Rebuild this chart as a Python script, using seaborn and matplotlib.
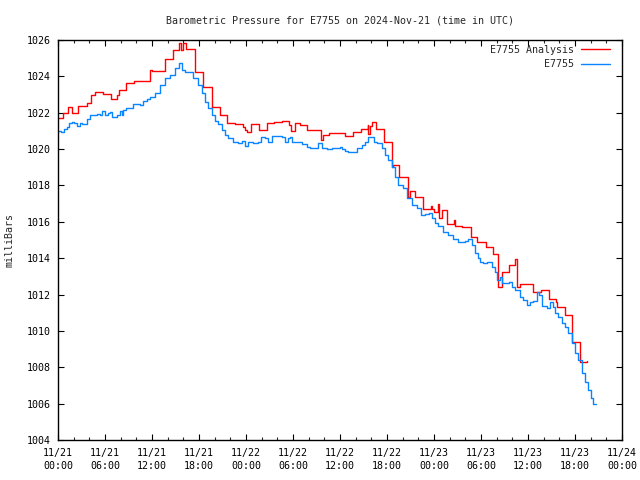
import matplotlib
matplotlib.use("Agg")
import matplotlib.pyplot as plt
import seaborn as sns
import pandas as pd
from matplotlib.ticker import MultipleLocator

# ---- data (hours since 2024-11-21 00:00 UTC, pressure in mbar) ----
analysis_hours = [0.0, 0.68, 1.32, 1.74, 2.51, 3.66, 4.21, 4.72, 5.79, 6.77, 7.49, 7.79,
                  8.64, 9.74, 11.74, 12.0, 13.66, 14.72, 15.5, 15.7, 16.0, 16.3, 17.55,
                  18.55, 19.62, 20.68, 21.62, 22.6, 23.66, 23.9, 24.09, 24.6, 25.7, 26.64,
                  27.62, 28.64, 29.53, 29.7, 30.26, 30.9, 31.75, 33.57, 33.87, 34.64,
                  36.64, 37.62, 38.64, 39.53, 39.6, 39.83, 40.04, 40.6, 41.62, 42.6, 42.8,
                  43.57, 44.64, 44.94, 45.58, 46.64, 47.62, 47.8, 48.0, 48.5, 48.7, 49.06,
                  49.62, 50.55, 50.65, 51.53, 52.68, 53.55, 54.64, 55.57, 56.21, 56.64,
                  57.62, 58.34, 58.64, 58.98, 60.6, 61.62, 62.68, 63.58, 63.7, 64.72,
                  65.58, 66.64, 67.57]
analysis_mbar = [1021.7, 1022.0, 1022.3, 1022.0, 1022.37, 1022.52, 1022.97, 1023.12, 1023.01,
                 1022.75, 1022.97, 1023.25, 1023.62, 1023.75, 1024.35, 1024.3, 1024.94,
                 1025.45, 1025.85, 1025.45, 1025.85, 1025.5, 1024.22, 1023.43, 1022.3,
                 1021.86, 1021.42, 1021.36, 1021.2, 1021.05, 1020.92, 1021.36, 1021.05,
                 1021.42, 1021.49, 1021.55, 1021.35, 1020.98, 1021.42, 1021.3, 1021.07,
                 1020.48, 1020.78, 1020.87, 1020.72, 1020.92, 1021.1, 1021.3, 1020.85,
                 1021.27, 1021.51, 1021.09, 1020.37, 1019.03, 1019.1, 1018.45, 1017.35,
                 1017.71, 1017.35, 1016.69, 1016.85, 1016.69, 1016.52, 1016.96, 1016.19,
                 1016.65, 1015.88, 1016.1, 1015.79, 1015.7, 1015.18, 1014.87, 1014.6,
                 1014.21, 1012.43, 1013.26, 1013.62, 1013.94, 1012.4, 1012.58, 1012.16,
                 1012.25, 1011.74, 1011.6, 1011.3, 1010.88, 1009.41, 1008.31, 1008.35]

station_hours = [0.04, 0.38, 0.81, 1.11, 1.4, 1.74, 2.08, 2.38, 2.81, 3.02, 3.66, 4.08, 4.94,
                 5.36, 5.57, 6.0, 6.34, 6.64, 6.94, 7.49, 7.91, 8.13, 8.34, 8.64, 9.62,
                 10.47, 10.89, 11.32, 11.74, 12.38, 13.02, 13.66, 14.3, 14.94, 15.45, 15.79,
                 16.21, 16.98, 17.28, 17.92, 18.34, 18.77, 19.19, 19.62, 20.04, 20.47,
                 20.89, 21.32, 21.74, 22.38, 23.02, 23.45, 23.87, 24.3, 24.94, 25.58, 25.91,
                 26.43, 26.85, 27.28, 28.55, 28.98, 29.32, 29.62, 29.83, 30.68, 31.11,
                 31.75, 32.17, 33.23, 33.66, 34.3, 34.94, 36.0, 36.21, 36.64, 37.06, 37.91,
                 38.13, 38.77, 39.19, 39.53, 40.04, 40.38, 40.68, 41.32, 41.75, 42.17,
                 42.6, 43.02, 43.45, 44.09, 44.51, 45.15, 45.79, 46.34, 46.85, 47.36, 47.7,
                 48.13, 48.55, 49.19, 49.83, 50.47, 51.11, 51.96, 52.3, 52.81, 53.23,
                 53.66, 53.87, 54.3, 54.72, 55.36, 55.79, 56.0, 56.43, 56.64, 57.28, 57.62,
                 57.91, 58.34, 58.98, 59.4, 59.83, 60.26, 60.68, 61.11, 61.45, 61.74,
                 62.38, 62.81, 63.15, 63.45, 63.87, 64.3, 64.72, 65.15, 65.57, 66.0, 66.43,
                 66.85, 67.28, 67.7, 68.0, 68.34, 68.68]
station_mbar = [1021.01, 1020.92, 1021.1, 1021.23, 1021.42, 1021.51, 1021.45, 1021.29,
                1021.42, 1021.36, 1021.66, 1021.88, 1021.92, 1021.88, 1022.1, 1021.88,
                1021.97, 1022.05, 1021.78, 1021.88, 1022.1, 1021.88, 1022.15, 1022.28,
                1022.46, 1022.42, 1022.65, 1022.76, 1022.89, 1023.07, 1023.52, 1023.89,
                1024.07, 1024.44, 1024.71, 1024.35, 1024.26, 1024.22, 1023.89, 1023.52,
                1023.07, 1022.61, 1022.24, 1021.88, 1021.55, 1021.36, 1021.05, 1020.78,
                1020.63, 1020.41, 1020.32, 1020.45, 1020.19, 1020.37, 1020.32, 1020.41,
                1020.69, 1020.63, 1020.41, 1020.72, 1020.69, 1020.37, 1020.6, 1020.69,
                1020.41, 1020.37, 1020.26, 1020.13, 1020.08, 1020.32, 1020.04, 1020.0,
                1020.08, 1020.1, 1019.98, 1019.91, 1019.82, 1019.86, 1020.04, 1020.22,
                1020.41, 1020.65, 1020.69, 1020.41, 1020.32, 1020.04, 1019.68, 1019.4,
                1019.03, 1018.48, 1018.02, 1017.84, 1017.29, 1016.92, 1016.74, 1016.38,
                1016.44, 1016.5, 1016.19, 1015.91, 1015.77, 1015.46, 1015.28, 1015.04,
                1014.91, 1014.96, 1015.04, 1014.72, 1014.27, 1014.0, 1013.81, 1013.76,
                1013.81, 1013.54, 1013.26, 1012.8, 1012.98, 1012.62, 1012.66, 1012.71,
                1012.43, 1012.25, 1011.88, 1011.7, 1011.43, 1011.61, 1011.67, 1012.16,
                1011.98, 1011.37, 1011.24, 1011.61, 1011.34, 1010.97, 1010.78, 1010.42,
                1010.23, 1009.87, 1009.32, 1008.77, 1008.4, 1007.67, 1007.21, 1006.75,
                1006.29, 1005.98, 1005.98]

x_tick_hours = [0, 6, 12, 18, 24, 30, 36, 42, 48, 54, 60, 66, 72]
x_tick_labels = ["11/21\n00:00", "11/21\n06:00", "11/21\n12:00", "11/21\n18:00",
                 "11/22\n00:00", "11/22\n06:00", "11/22\n12:00", "11/22\n18:00",
                 "11/23\n00:00", "11/23\n06:00", "11/23\n12:00", "11/23\n18:00",
                 "11/24\n00:00"]
y_ticks = [1004, 1006, 1008, 1010, 1012, 1014, 1016, 1018, 1020, 1022, 1024, 1026]

title = "Barometric Pressure for E7755 on 2024-Nov-21 (time in UTC)"
series_names = ["E7755 Analysis", "E7755"]
series_colors = ["#ff0000", "#0a84ff"]

# ---- plot ----
sns.set_style("ticks")
plt.rcParams["font.family"] = ["DejaVu Sans Mono"]
FS = 7.2

fig = plt.figure(figsize=(6.4, 4.8), dpi=100)
ax = fig.add_axes([58 / 640, 40 / 480, 564 / 640, 400 / 480])

df_a = pd.DataFrame({"hour": analysis_hours, "mbar": analysis_mbar})
df_s = pd.DataFrame({"hour": station_hours, "mbar": station_mbar})

sns.lineplot(data=df_a, x="hour", y="mbar", ax=ax, color=series_colors[0],
             drawstyle="steps-post", lw=1.0, label=series_names[0],
             estimator=None, sort=False)
sns.lineplot(data=df_s, x="hour", y="mbar", ax=ax, color=series_colors[1],
             drawstyle="steps-post", lw=1.0, label=series_names[1],
             estimator=None, sort=False)

ax.set_xlim(0, 72)
ax.set_ylim(1004, 1026)
ax.set_xticks(x_tick_hours)
ax.set_xticklabels(x_tick_labels, fontsize=FS, linespacing=1.35)
ax.xaxis.set_minor_locator(MultipleLocator(2))
ax.set_yticks(y_ticks)
ax.set_yticklabels([str(v) for v in y_ticks], fontsize=FS)

ax.tick_params(axis="both", which="major", direction="in", length=4.5, width=0.8,
               top=True, right=True, colors="black")
ax.tick_params(axis="x", which="major", pad=6)
ax.tick_params(axis="y", which="major", pad=5)
ax.tick_params(axis="x", which="minor", direction="in", length=2.5, width=0.8,
               top=True, bottom=True)
for s in ax.spines.values():
    s.set_linewidth(1.0)
    s.set_color("black")

ax.set_xlabel("")
ax.set_ylabel("milliBars", fontsize=FS)
ax.yaxis.set_label_coords(-43 / 564, 0.5)
ax.set_title(title, fontsize=FS, pad=12)

leg = ax.legend(loc="upper right", frameon=False, markerfirst=False, fontsize=FS,
                handlelength=2.9, handletextpad=0.7, labelspacing=0.45,
                borderpad=0, borderaxespad=0,
                bbox_to_anchor=(1 - 12 / 564, 1 - 5 / 400))

fig.savefig("out.png", dpi=100, facecolor="white")
